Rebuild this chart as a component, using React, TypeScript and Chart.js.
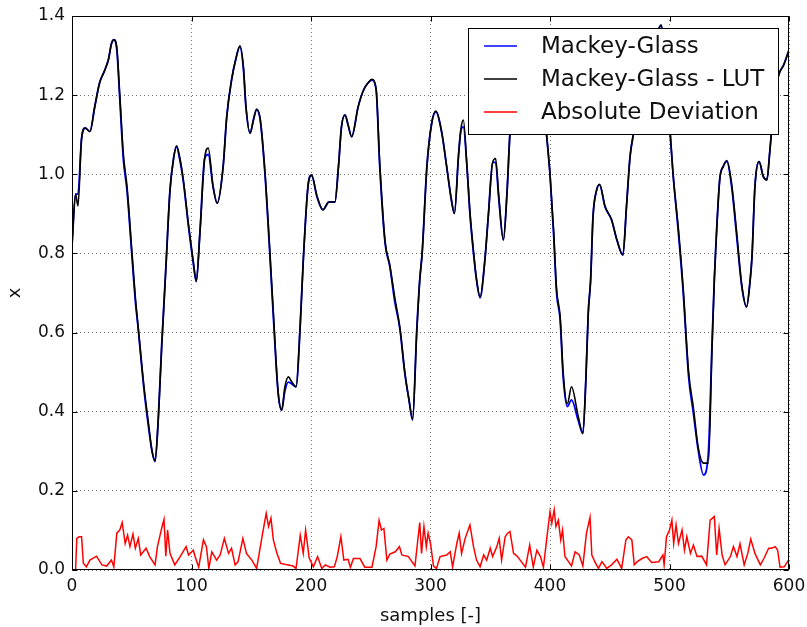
import React, { useEffect, useRef } from "react";
import { Chart, registerables } from "chart.js";

Chart.register(...registerables);

// sample positions for the two Mackey-Glass curves
const samples = [
  0, 3, 5, 8, 11, 15, 19, 23, 27, 30.5, 33, 35, 37.5, 40, 43, 46, 50, 53, 55.5, 60,
  64, 67, 69.5, 72, 75, 78, 79, 82, 85, 87.5, 90, 93, 97.5, 101.5, 104, 107, 111, 114, 118, 121.5,
  126.5, 129.5, 133.5, 137, 140.5, 143.5, 145.5, 149, 152, 154.5, 157.5, 161.5, 165.5, 168.5, 172.5, 175.5, 178, 181, 184, 187.5,
  191, 193.5, 197.5, 200.5, 205, 210, 215, 220, 223, 225.5, 228.5, 231, 234, 239.5, 244, 247.5, 251, 254.5, 257.5, 262,
  266, 270, 274.5, 278.5, 282, 285, 288.5, 291, 293, 297, 301, 304.5, 309.5, 313.5, 317.5, 320, 323.5, 325.5, 327.5, 330.5,
  333, 336, 338.5, 341.5, 345.5, 348.5, 352, 354.5, 357, 361, 364, 366.5, 370, 375, 380, 385, 390, 394, 397, 400,
  403, 405.5, 408.5, 411, 414.5, 418, 423.5, 427.5, 430, 432, 434, 436, 439, 441.5, 446, 451.5, 456, 461, 464, 467,
  470, 475, 480, 485, 489, 493, 497, 500.5, 503, 507.5, 511.5, 516, 520, 524, 528.5, 532.5, 535.5, 537.5, 538.5, 542,
  545, 548, 552, 556, 560.5, 564.5, 567.5, 569, 571.5, 575, 578.5, 581.5, 584, 587, 591, 595.5, 600,
];

const mackeyGlass = [
  0.82, 0.95, 0.95, 1.09, 1.117, 1.108, 1.17, 1.23, 1.26, 1.29, 1.33, 1.34, 1.314, 1.19, 1.036, 0.96, 0.8, 0.68, 0.607, 0.463,
  0.362, 0.3, 0.274, 0.371, 0.564, 0.733, 0.79, 0.96, 1.04, 1.07, 1.04, 0.986, 0.868, 0.775, 0.729, 0.85, 1.04, 1.05, 0.97, 0.927,
  1.02, 1.146, 1.238, 1.29, 1.322, 1.264, 1.171, 1.104, 1.14, 1.163, 1.137, 1.0, 0.8, 0.64, 0.447, 0.404, 0.45, 0.475, 0.47, 0.463,
  0.62, 0.78, 0.97, 0.998, 0.943, 0.91, 0.93, 0.93, 1.02, 1.12, 1.15, 1.125, 1.095, 1.171, 1.213, 1.23, 1.238, 1.213, 1.02, 0.826,
  0.766, 0.68, 0.607, 0.497, 0.43, 0.379, 0.607, 0.733, 0.8, 1.02, 1.129, 1.158, 1.104, 1.02, 0.935, 0.901, 1.05, 1.112, 1.12, 1.02,
  0.9, 0.8, 0.733, 0.688, 0.783, 0.9, 1.03, 1.03, 0.943, 0.834, 0.952, 1.104, 1.2, 1.28, 1.32, 1.33, 1.3, 1.2, 1.104, 1.0,
  0.85, 0.7, 0.632, 0.488, 0.413, 0.43, 0.379, 0.345, 0.48, 0.649, 0.733, 0.893, 0.96, 0.973, 0.918, 0.885, 0.834, 0.796, 0.918, 1.045,
  1.104, 1.18, 1.25, 1.31, 1.35, 1.377, 1.25, 1.104, 1.0, 0.85, 0.7, 0.488, 0.396, 0.303, 0.24, 0.295, 0.564, 0.733, 0.8, 0.986,
  1.02, 1.032, 0.969, 0.85, 0.716, 0.665, 0.733, 0.79, 0.969, 1.032, 0.994, 0.986, 1.06, 1.163, 1.247, 1.276, 1.314,
];

const mackeyGlassLut = [
  0.82, 0.95, 0.92, 1.09, 1.117, 1.108, 1.17, 1.23, 1.26, 1.29, 1.33, 1.34, 1.32, 1.2, 1.05, 0.97, 0.81, 0.69, 0.61, 0.47,
  0.37, 0.3, 0.276, 0.37, 0.56, 0.73, 0.79, 0.96, 1.04, 1.072, 1.045, 0.99, 0.872, 0.78, 0.73, 0.85, 1.04, 1.066, 0.97, 0.927,
  1.02, 1.146, 1.238, 1.29, 1.325, 1.27, 1.175, 1.104, 1.14, 1.165, 1.14, 1.005, 0.81, 0.65, 0.45, 0.404, 0.46, 0.488, 0.475, 0.463,
  0.62, 0.78, 0.97, 0.998, 0.945, 0.91, 0.93, 0.93, 1.02, 1.12, 1.15, 1.125, 1.095, 1.171, 1.213, 1.23, 1.24, 1.215, 1.03, 0.83,
  0.77, 0.69, 0.61, 0.5, 0.43, 0.382, 0.6, 0.733, 0.8, 1.02, 1.129, 1.16, 1.104, 1.02, 0.935, 0.901, 1.05, 1.115, 1.137, 1.02,
  0.905, 0.805, 0.735, 0.69, 0.783, 0.9, 1.03, 1.04, 0.95, 0.834, 0.952, 1.104, 1.2, 1.28, 1.32, 1.33, 1.3, 1.2, 1.104, 1.0,
  0.86, 0.71, 0.64, 0.5, 0.42, 0.463, 0.39, 0.345, 0.48, 0.649, 0.733, 0.893, 0.96, 0.975, 0.92, 0.885, 0.834, 0.796, 0.918, 1.045,
  1.104, 1.18, 1.25, 1.31, 1.35, 1.377, 1.25, 1.11, 1.0, 0.86, 0.71, 0.5, 0.41, 0.31, 0.27, 0.27, 0.55, 0.733, 0.8, 0.986,
  1.02, 1.035, 0.975, 0.86, 0.72, 0.665, 0.733, 0.79, 0.969, 1.032, 0.994, 0.986, 1.06, 1.163, 1.247, 1.276, 1.314,
];

// sample positions for the absolute deviation
const deviationSamples = [
  0, 3, 4, 6, 8, 9.5, 12, 15, 20.5, 25, 29, 33, 35, 37.5, 40, 42, 44.5, 46.5, 48.5, 51,
  53, 55.5, 57.5, 62, 65, 69.5, 71.5, 75, 77, 78.5, 80, 82, 86, 90.5, 95.5, 97.5, 101.5, 103, 106, 110,
  112.5, 114.5, 117, 121, 124, 127.5, 131, 133.5, 136.5, 139, 143, 146, 150.5, 154.5, 159, 162.5, 164.5, 166.5, 168.5, 171.5,
  174.5, 180, 185, 187.5, 191, 193.5, 195.5, 198.5, 202, 205.5, 209, 212, 216, 219.5, 222, 225, 227.5, 231, 233, 235.5,
  241, 245, 251, 254.5, 257, 259, 261, 263.5, 266, 270.5, 274, 276, 281.5, 287, 291, 292.5, 294.5, 296.5, 298, 300,
  302.5, 305, 308, 313.5, 316.5, 318.5, 322, 324, 326, 329, 333, 336, 338.5, 341.5, 344.5, 347, 350, 352, 355.5, 357.5,
  359.5, 362.5, 364.5, 366.5, 369.5, 372.5, 375, 379.5, 383, 386, 389, 392, 394.5, 397.5, 400, 401.5, 403.5, 405, 407, 409,
  410.5, 412.5, 415.5, 418, 421, 424.5, 427.5, 430.5, 433.5, 435, 437.5, 440.5, 443.5, 447.5, 451.5, 456, 460, 463.5, 465.5, 468.5,
  470.5, 473, 477, 481, 485, 491, 494.5, 495.5, 497.5, 500, 502, 503.5, 505.5, 507.5, 510.5, 512.5, 514.5, 517.5, 520, 523,
  527, 531, 534, 537.5, 539.5, 541.5, 544, 546.5, 551, 553.5, 556.5, 559, 562.5, 565.5, 568, 571.5, 576, 579, 583, 585.5,
  588.5, 590.5, 592.5, 596, 600,
];

const absoluteDeviation = [
  0, 0, 0.08, 0.084, 0.084, 0.017, 0.008, 0.025, 0.035, 0.013, 0.01, 0.025, 0.008, 0.093, 0.101, 0.12, 0.067, 0.088, 0.059, 0.091,
  0.055, 0.08, 0.038, 0.055, 0.034, 0.013, 0.059, 0.105, 0.128, 0.035, 0.101, 0.042, 0.013, 0.034, 0.059, 0.038, 0.05, 0.034, 0.007, 0.076,
  0.059, 0.004, 0.046, 0.025, 0.038, 0.08, 0.042, 0.055, 0.013, 0.021, 0.08, 0.042, 0.025, 0.004, 0.084, 0.143, 0.11, 0.131, 0.076, 0.042,
  0.017, 0.013, 0.01, 0.004, 0.088, 0.042, 0.101, 0.03, 0.008, 0.034, 0.004, 0.013, 0.007, 0.008, 0.034, 0.084, 0.025, 0.027, 0.007, 0.029,
  0.029, 0.007, 0.007, 0.059, 0.125, 0.101, 0.105, 0.025, 0.04, 0.046, 0.059, 0.038, 0.034, 0.01, 0.12, 0.042, 0.11, 0.059, 0.093, 0.067,
  0.01, 0.004, 0.034, 0.038, 0.046, 0.008, 0.067, 0.093, 0.042, 0.08, 0.114, 0.059, 0.025, 0.008, 0.038, 0.025, 0.055, 0.034, 0.059, 0.08,
  0.025, 0.084, 0.093, 0.097, 0.042, 0.035, 0.025, 0.007, 0.063, 0.008, 0.05, 0.034, 0.007, 0.085, 0.147, 0.118, 0.152, 0.11, 0.126, 0.076,
  0.101, 0.034, 0.021, 0.01, 0.046, 0.038, 0.01, 0.093, 0.133, 0.038, 0.021, 0.004, 0.021, 0.004, 0.013, 0.027, 0.004, 0.076, 0.084, 0.076,
  0.013, 0.021, 0.029, 0.034, 0.019, 0.021, 0.038, 0.013, 0.084, 0.101, 0.126, 0.067, 0.114, 0.067, 0.101, 0.05, 0.084, 0.042, 0.063, 0.034,
  0.035, 0.013, 0.126, 0.135, 0.038, 0.105, 0.038, 0.013, 0.034, 0.059, 0.034, 0.066, 0.013, 0.042, 0.078, 0.042, 0.013, 0.029, 0.055, 0.055,
  0.059, 0.05, 0.007, 0.008, 0.027,
];

const seriesNames = ["Mackey-Glass", "Mackey-Glass - LUT", "Absolute Deviation"];
const seriesColors = ["#0000ff", "#000000", "#ff0000"];
const xTickValues = [0, 100, 200, 300, 400, 500, 600];
const yTickValues = [0, 0.2, 0.4, 0.6, 0.8, 1.0, 1.2, 1.4];

const FONT = "'DejaVu Sans', sans-serif";

const framePlugin = {
  id: "mplFrame",
  afterDraw(chart: any) {
    const { ctx, chartArea: a, scales } = chart;
    ctx.save();
    ctx.strokeStyle = "#000";
    ctx.lineWidth = 1;
    const line = (x1: number, y1: number, x2: number, y2: number) => {
      ctx.beginPath();
      ctx.moveTo(x1, y1);
      ctx.lineTo(x2, y2);
      ctx.stroke();
    };
    const L = Math.round(a.left) + 0.5;
    const R = Math.round(a.right) - 0.5;
    const T = Math.round(a.top) + 0.5;
    const B = Math.round(a.bottom) - 0.5;
    xTickValues.forEach((v) => {
      const px = Math.round(scales.x.getPixelForValue(v)) + 0.5;
      line(px, B, px, B - 5);
      line(px, T, px, T + 5);
    });
    yTickValues.forEach((v) => {
      const py = Math.round(scales.y.getPixelForValue(v)) + 0.5;
      line(L, py, L + 5, py);
      line(R, py, R - 5, py);
    });
    ctx.strokeRect(L, T, R - L, B - T);

    // legend (upper right, inside axes)
    const bw = 310;
    const bh = 106;
    const bx = Math.round(a.right) - 11 - bw;
    const by = Math.round(a.top) + 12;
    ctx.fillStyle = "#fff";
    ctx.fillRect(bx, by, bw, bh);
    ctx.strokeStyle = "#000";
    ctx.lineWidth = 1;
    ctx.strokeRect(bx + 0.5, by + 0.5, bw, bh);
    ctx.font = `23px ${FONT}`;
    ctx.textBaseline = "middle";
    ctx.textAlign = "left";
    seriesNames.forEach((name, i) => {
      const ly = by + 18 + i * 33;
      ctx.strokeStyle = seriesColors[i];
      ctx.lineWidth = 1.6;
      line(bx + 16, ly, bx + 49, ly);
      ctx.fillStyle = "#111";
      ctx.fillText(name, bx + 73, ly + 1);
    });
    ctx.restore();
  },
};

export default function App() {
  const ref = useRef<HTMLCanvasElement | null>(null);

  useEffect(() => {
    document.body.style.margin = "0";
    document.body.style.overflow = "hidden";
    const canvas = ref.current;
    if (!canvas) return;

    const mg = samples.map((s, i) => ({ x: s, y: mackeyGlass[i] }));
    const lut = samples.map((s, i) => ({ x: s, y: mackeyGlassLut[i] }));
    const dev = deviationSamples.map((s, i) => ({ x: s, y: absoluteDeviation[i] }));

    const gridOpts = {
      color: "rgba(0,0,0,0.55)",
      lineWidth: 1,
      drawTicks: false,
      tickLength: 0,
    };

    const chart = new Chart(canvas, {
      type: "line",
      data: {
        datasets: [
          {
            label: seriesNames[0],
            data: mg,
            borderColor: seriesColors[0],
            borderWidth: 1.8,
            pointRadius: 0,
            cubicInterpolationMode: "monotone",
            order: 3,
          },
          {
            label: seriesNames[1],
            data: lut,
            borderColor: seriesColors[1],
            borderWidth: 1.6,
            pointRadius: 0,
            cubicInterpolationMode: "monotone",
            order: 2,
          },
          {
            label: seriesNames[2],
            data: dev,
            borderColor: seriesColors[2],
            borderWidth: 1.5,
            pointRadius: 0,
            tension: 0,
            order: 1,
          },
        ],
      },
      options: {
        animation: false,
        responsive: true,
        maintainAspectRatio: false,
        layout: { padding: { left: 0, top: 16, right: 18, bottom: 0 } },
        plugins: {
          legend: { display: false },
          tooltip: { enabled: false },
        },
        scales: {
          x: {
            type: "linear",
            min: 0,
            max: 600,
            afterBuildTicks: (scale: any) => {
              scale.ticks = xTickValues.map((v) => ({ value: v }));
            },
            afterFit: (scale: any) => {
              scale.height = 57;
              scale.paddingLeft = 0;
              scale.paddingRight = 0;
            },
            ticks: {
              color: "#111",
              font: { family: FONT, size: 17 },
              padding: 6,
              maxRotation: 0,
              callback: (v: any) => String(v),
            },
            grid: { ...gridOpts },
            border: { display: false, dash: [1, 3] },
            title: {
              display: true,
              text: "samples [-]",
              color: "#111",
              font: { family: FONT, size: 18 },
              padding: { top: 2, bottom: 0 },
            },
          },
          y: {
            type: "linear",
            min: 0,
            max: 1.4,
            afterBuildTicks: (scale: any) => {
              scale.ticks = yTickValues.map((v) => ({ value: v }));
            },
            afterFit: (scale: any) => {
              scale.width = 72;
              scale.paddingTop = 0;
              scale.paddingBottom = 0;
            },
            ticks: {
              color: "#111",
              font: { family: FONT, size: 17 },
              padding: 7,
              callback: (v: any) => Number(v).toFixed(1),
            },
            grid: { ...gridOpts },
            border: { display: false, dash: [1, 3] },
            title: {
              display: true,
              text: "x",
              color: "#111",
              font: { family: FONT, size: 18 },
              padding: { top: 5, bottom: 0 },
            },
          },
        },
      },
      plugins: [framePlugin],
    } as any);

    return () => chart.destroy();
  }, []);

  return (
    <div style={{ position: "relative", width: 807, height: 627 }}>
      <canvas ref={ref} />
    </div>
  );
}
